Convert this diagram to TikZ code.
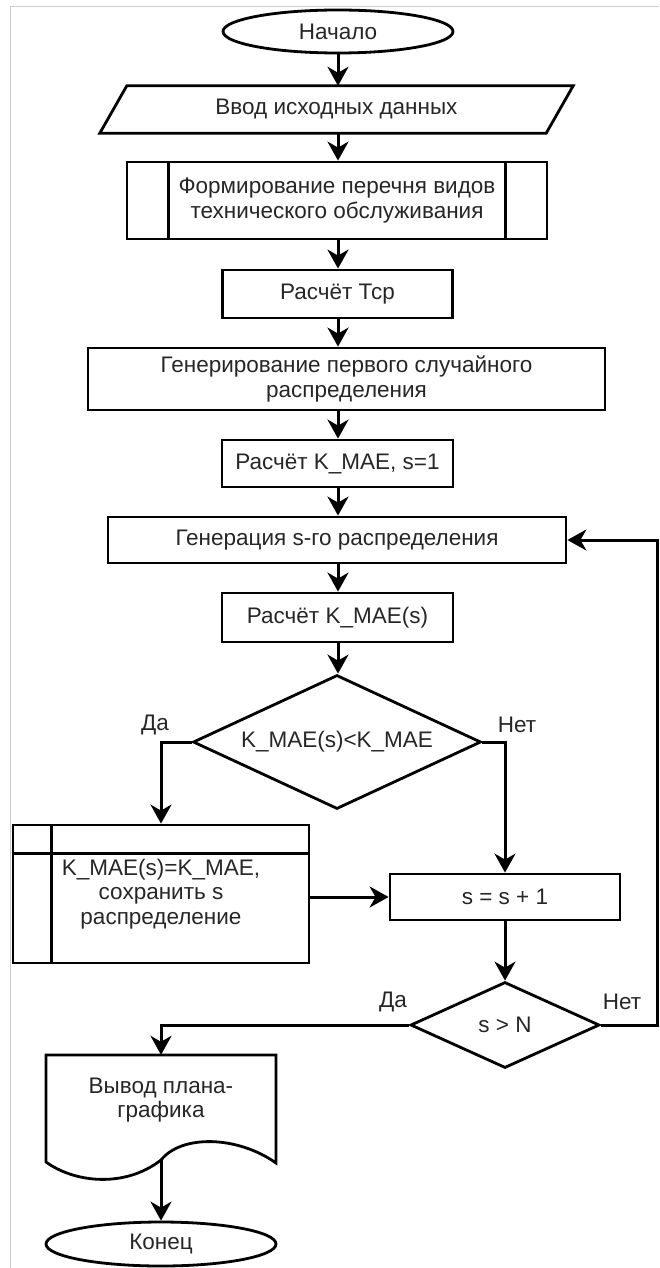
\documentclass[tikz,border=0pt]{standalone}
\usepackage{fontspec}
\setmainfont{Liberation Sans}
\usetikzlibrary{arrows.meta,shapes.geometric,calc}
\begin{document}
\begin{tikzpicture}[x=1pt,y=-1pt,
  every node/.style={font=\fontsize{22.5}{24.5}\selectfont, text=black!85, align=center, inner sep=0pt},
  ln/.style={draw=black, line width=2.8pt},
  box/.style={rectangle, ln},
  term/.style={ellipse, ln},
  decision/.style={diamond, ln},
  lbl/.style={font=\fontsize{22.5}{24.5}\selectfont},
  arr/.style={draw=black, line width=3pt, -{Stealth[length=19pt, width=21pt, inset=6pt]}},
  conn/.style={draw=black, line width=3pt}
]
\useasboundingbox (0,0) rectangle (659,1268);
\draw[black!20, line width=1pt] (10.5,1268) -- (10.5,7) -- (659,7);

% nodes
\node[term, minimum width=230pt, minimum height=43pt] (start) at (338,31.5) {Начало};
\node[minimum width=446pt, minimum height=47pt] (inp) at (336.5,109.5) {Ввод исходных данных};
\draw[ln] ([xshift=13.5pt]inp.north west) -- ([xshift=13.5pt]inp.north east) -- ([xshift=-13.5pt]inp.south east) -- ([xshift=-13.5pt]inp.south west) -- cycle;
\node[box, minimum width=420pt, minimum height=77pt] (form) at (337,200.5) {Формирование перечня видов\\технического обслуживания};
\draw[ln] ([xshift=43pt]form.north west) -- ([xshift=43pt]form.south west);
\draw[ln] ([xshift=-43pt]form.north east) -- ([xshift=-43pt]form.south east);
\node[box, minimum width=230pt, minimum height=48pt] (tcp) at (337.5,294) {Расчёт Тср};
\node[box, minimum width=517pt, minimum height=62pt] (gen1) at (346.5,379) {Генерирование первого случайного\\распределения};
\node[box, minimum width=231pt, minimum height=47pt] (kmae1) at (337.5,463.5) {Расчёт K\_MAE, s=1};
\node[box, minimum width=458pt, minimum height=46pt] (gens) at (337,540) {Генерация s-го распределения};
\node[box, minimum width=231pt, minimum height=49pt] (kmaes) at (337.5,617.5) {Расчёт K\_MAE(s)};
\node[decision, minimum width=288pt, minimum height=134pt, aspect=2.15] (d1) at (337,742) {K\_MAE(s)<K\_MAE};
\node[box, minimum width=296pt, minimum height=138pt] (store) at (161,894) {K\_MAE(s)=K\_MAE,\\сохранить s\\распределение};
\draw[ln] ([xshift=40pt]store.north west) -- ([xshift=40pt]store.south west);
\draw[ln] ([yshift=-30pt]store.north west) -- ([yshift=-30pt]store.north east);
\node[box, minimum width=230pt, minimum height=46pt] (splus) at (505,897) {s = s + 1};
\node[decision, minimum width=189pt, minimum height=86pt, aspect=2.2] (d2) at (505,1025) {s > N};
\node[minimum width=230pt, minimum height=90pt] (doc) at (161,1100) {Вывод плана-\\графика};
\draw[ln] (46,1162) -- (46,1055) -- (276,1055) -- (276,1163)
  .. controls (238,1136) and (182,1134) .. (161,1160)
  .. controls (125,1188) and (75,1183) .. (46,1162) -- cycle;
\coordinate (docb) at (161,1160);
\node[term, minimum width=230pt, minimum height=44pt] (stop) at (161,1244) {Конец};

% labels
\node[lbl] (l1) at (155,725) {Да};
\node[lbl] (l2) at (517,725) {Нет};
\node[lbl] (l3) at (393,1002) {Да};
\node[lbl] (l4) at (622,1002) {Нет};

% connectors
\draw[arr] (start.south) -- (start.south |- inp.north);
\draw[arr] (inp.south -| start.south) -- (start.south |- form.north);
\draw[arr] (form.south -| start.south) -- (start.south |- tcp.north);
\draw[arr] (tcp.south -| start.south) -- (start.south |- gen1.north);
\draw[arr] (gen1.south -| start.south) -- (start.south |- kmae1.north);
\draw[arr] (kmae1.south -| start.south) -- (start.south |- gens.north);
\draw[arr] (gens.south -| start.south) -- (start.south |- kmaes.north);
\draw[arr] (kmaes.south -| start.south) -- (start.south |- d1.north);
\draw[arr] (d1.west) -| (store.north);
\draw[arr] (d1.east) -| (splus.north);
\draw[arr] (store.east |- splus.west) -- (splus.west);
\draw[arr] (splus.south) -- (d2.north);
\draw[arr] (d2.west) -| (doc.north);
\coordinate (lp) at (657,1025);
\draw[arr] (d2.east) -- (lp) |- (gens.east);
\draw[arr] (docb) -- (stop.north);
\end{tikzpicture}
\end{document}
